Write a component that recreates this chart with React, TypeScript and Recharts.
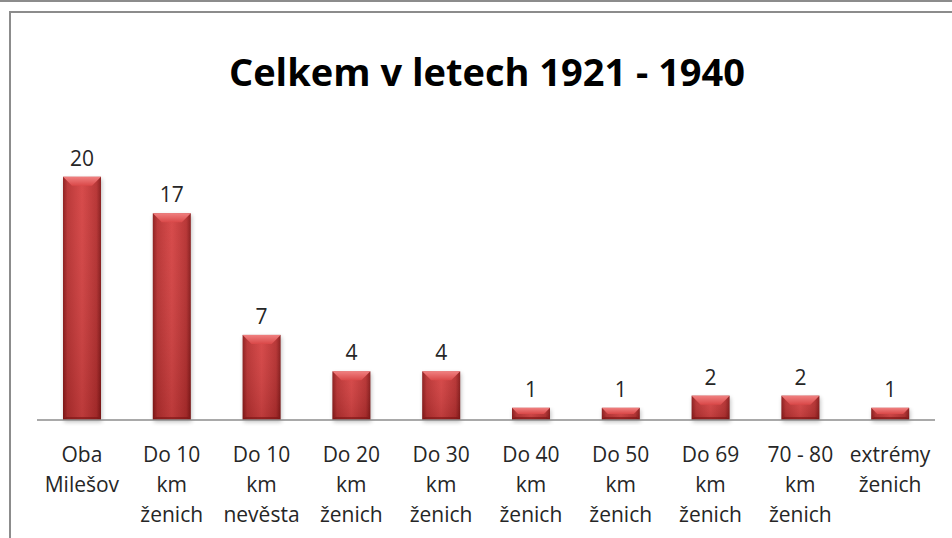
import React from 'react';
import { BarChart, Bar, XAxis, YAxis, LabelList } from 'recharts';

const categories = [
  'Oba\nMilešov',
  'Do 10\nkm\nženich',
  'Do 10\nkm\nnevěsta',
  'Do 20\nkm\nženich',
  'Do 30\nkm\nženich',
  'Do 40\nkm\nženich',
  'Do 50\nkm\nženich',
  'Do 69\nkm\nženich',
  '70 - 80\nkm\nženich',
  'extrémy\nženich',
];
const values = [20, 17, 7, 4, 4, 1, 1, 2, 2, 1];
const titleText = 'Celkem v letech 1921 - 1940';

const data = categories.map((name, i) => ({ name, value: values[i] }));

const FONT = '"Open Sans", "DejaVu Sans", sans-serif';

const CategoryTick = (props: any) => {
  const { x, y, payload } = props;
  const lines = String(payload.value).split('\n');
  return (
    <text x={x} y={y} textAnchor="middle" fill="#262626" fontFamily={FONT} fontSize={21}>
      {lines.map((l: string, i: number) => (
        <tspan key={i} x={x} dy={i === 0 ? 34 : 30}>
          {l}
        </tspan>
      ))}
    </text>
  );
};

const BevelBar = (props: any) => {
  const { x, y, width, height } = props;
  if (!height || height <= 0) return null;
  const b = Math.min(9, height / 2);
  return (
    <g>
      <rect x={x + 1} y={y + 2} width={width} height={height} fill="#000" opacity={0.25} filter="url(#barShadow)" />
      <rect x={x} y={y} width={width} height={height} fill="url(#barBody)" />
      <rect x={x} y={y} width={width} height={height} fill="url(#barVert)" />
      <polygon
        points={`${x},${y} ${x + width},${y} ${x + width - b},${y + b} ${x + b},${y + b}`}
        fill="url(#barTop)"
      />
      <polygon
        points={`${x},${y + height} ${x + width},${y + height} ${x + width - 3},${y + height - 3} ${x + 3},${y + height - 3}`}
        fill="#7a1414"
        opacity={0.6}
      />
    </g>
  );
};

export default function App() {
  return (
    <div style={{ position: 'absolute', left: 0, top: 0, width: 952, height: 538, background: '#fff', overflow: 'hidden' }}>
      <div style={{ position: 'absolute', left: 0, top: 0, width: 952, height: 2, background: '#8c8c8c' }} />
      <div
        style={{
          position: 'absolute',
          left: 9,
          top: 11,
          width: 960,
          height: 560,
          borderTop: '2px solid #8c8c8c',
          borderLeft: '2px solid #8c8c8c',
        }}
      />
      <div style={{ position: 'absolute', left: 0, top: 0 }}>
        <BarChart width={952} height={538} data={data} margin={{ top: 116, right: 17, bottom: 0, left: 37 }} barCategoryGap={0}>
          <defs>
            <linearGradient id="barBody" x1="0" y1="0" x2="1" y2="0">
              <stop offset="0" stopColor="#8a1818" />
              <stop offset="0.12" stopColor="#b83030" />
              <stop offset="0.5" stopColor="#d54242" />
              <stop offset="0.88" stopColor="#b52e2e" />
              <stop offset="1" stopColor="#851717" />
            </linearGradient>
            <linearGradient id="barVert" x1="0" y1="0" x2="0" y2="1">
              <stop offset="0" stopColor="#ffffff" stopOpacity={0.05} />
              <stop offset="1" stopColor="#000000" stopOpacity={0.12} />
            </linearGradient>
            <linearGradient id="barTop" x1="0" y1="0" x2="0" y2="1">
              <stop offset="0" stopColor="#f08080" />
              <stop offset="1" stopColor="#d94848" />
            </linearGradient>
            <filter id="barShadow" x="-20%" y="-20%" width="140%" height="140%">
              <feGaussianBlur stdDeviation="2" />
            </filter>
          </defs>
          <text x={487} y={86} textAnchor="middle" fontFamily={FONT} fontWeight={700} fontSize={38} fill="#000">
            {titleText}
          </text>
          <XAxis
            dataKey="name"
            interval={0}
            height={118}
            tickLine={false}
            axisLine={{ stroke: '#8c8c8c', strokeWidth: 1.5 }}
            tick={<CategoryTick />}
          />
          <YAxis hide domain={[0, 25]} />
          <Bar dataKey="value" barSize={38} isAnimationActive={false} shape={<BevelBar />}>
            <LabelList dataKey="value" position="top" offset={11} fill="#262626" fontFamily={FONT} fontSize={21} />
          </Bar>
        </BarChart>
      </div>
    </div>
  );
}
